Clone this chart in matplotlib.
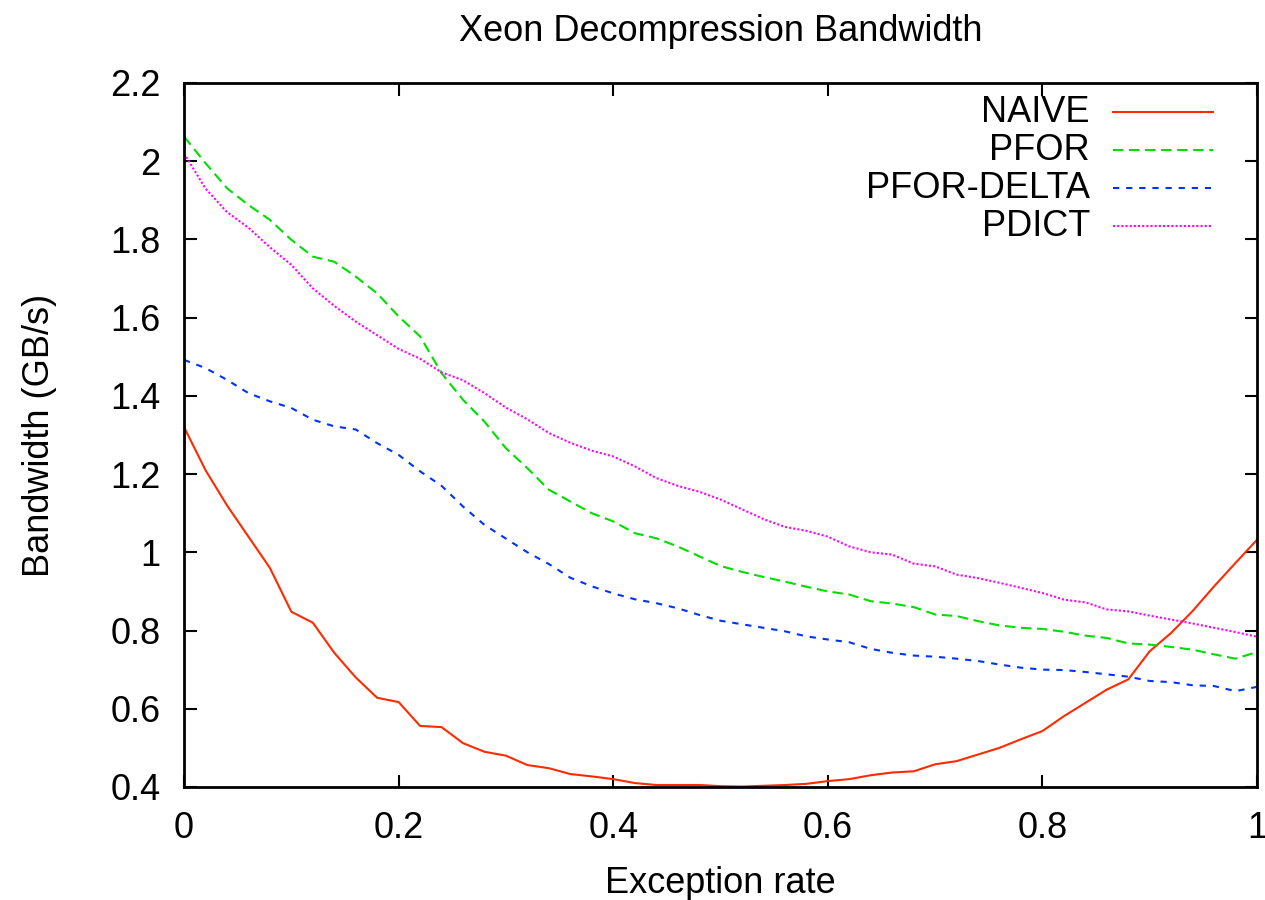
import matplotlib
matplotlib.use("Agg")
import matplotlib.pyplot as plt
import numpy as np

plt.rcParams['font.family'] = ['Liberation Sans', 'DejaVu Sans']

rate = np.round(np.arange(0, 1.0001, 0.02), 2)

naive = [1.32, 1.21, 1.12, 1.04, 0.96, 0.848, 0.82, 0.743, 0.68, 0.628,
         0.617, 0.556, 0.553, 0.512, 0.49, 0.48, 0.456, 0.448, 0.433, 0.427,
         0.42, 0.41, 0.405, 0.405, 0.405, 0.402, 0.401, 0.403, 0.405, 0.408,
         0.415, 0.42, 0.43, 0.437, 0.44, 0.458, 0.466, 0.483, 0.50, 0.522,
         0.543, 0.581, 0.615, 0.649, 0.675, 0.747, 0.794, 0.85, 0.913, 0.973,
         1.032]
pfor = [2.063, 1.995, 1.931, 1.888, 1.85, 1.799, 1.756, 1.743, 1.705, 1.662,
        1.603, 1.552, 1.458, 1.39, 1.334, 1.266, 1.215, 1.16, 1.13, 1.10,
        1.079, 1.049, 1.036, 1.015, 0.99, 0.965, 0.95, 0.937, 0.925, 0.912,
        0.90, 0.892, 0.875, 0.869, 0.86, 0.841, 0.837, 0.824, 0.813, 0.807,
        0.804, 0.797, 0.787, 0.781, 0.767, 0.764, 0.758, 0.751, 0.739, 0.728,
        0.745]
pfor_delta = [1.492, 1.471, 1.441, 1.407, 1.386, 1.369, 1.339, 1.322, 1.314, 1.279,
              1.249, 1.207, 1.17, 1.117, 1.07, 1.035, 1.0, 0.97, 0.935, 0.913,
              0.895, 0.88, 0.87, 0.857, 0.84, 0.825, 0.816, 0.807, 0.798, 0.785,
              0.777, 0.770, 0.753, 0.743, 0.736, 0.733, 0.728, 0.722, 0.713, 0.705,
              0.70, 0.699, 0.694, 0.688, 0.682, 0.671, 0.668, 0.66, 0.658, 0.645,
              0.656]
pdict = [2.02, 1.93, 1.87, 1.83, 1.78, 1.735, 1.675, 1.63, 1.59, 1.555,
         1.52, 1.495, 1.46, 1.44, 1.407, 1.37, 1.34, 1.305, 1.28, 1.26,
         1.245, 1.22, 1.19, 1.17, 1.155, 1.135, 1.11, 1.085, 1.065, 1.055,
         1.04, 1.015, 1.0, 0.994, 0.971, 0.964, 0.943, 0.934, 0.922, 0.909,
         0.896, 0.879, 0.872, 0.854, 0.849, 0.838, 0.828, 0.818, 0.807, 0.796,
         0.784]

series = [
    ("NAIVE", naive, '#ff2a00', '-'),
    ("PFOR", pfor, '#00dd00', (0, (5, 2.7))),
    ("PFOR-DELTA", pfor_delta, '#0033ff', (0, (3, 3.3))),
    ("PDICT", pdict, '#ff00ff', (0, (1, 1))),
]

fig = plt.figure(figsize=(12.65, 9), dpi=100)
ax = fig.add_axes([0.1455, 0.1256, 0.8482, 0.7822])

for i, (name, vals, color, ls) in enumerate(series):
    ax.plot(rate, vals, color=color, linestyle=ls, linewidth=1.5)
    # gnuplot style key: right-justified label, sample line on the right
    ky = 0.9585 - i * 0.054
    ax.text(0.8443, ky, name, transform=ax.transAxes, ha='right', va='center',
            fontsize=26)
    ax.plot([0.8658, 0.959], [ky, ky], transform=ax.transAxes, color=color,
            linestyle=ls, linewidth=1.5)

ax.set_xlim(0, 1)
ax.set_ylim(0.4, 2.2)
ax.set_xticks(np.arange(0, 1.01, 0.2))
ax.set_xticklabels(['0', '0.2', '0.4', '0.6', '0.8', '1'])
ax.set_yticks(np.arange(0.4, 2.21, 0.2))
ax.set_yticklabels(['0.4', '0.6', '0.8', '1', '1.2', '1.4', '1.6', '1.8', '2', '2.2'])
ax.tick_params(direction='in', length=9, width=1.5, top=True, right=True,
               labelsize=26)
ax.tick_params(axis='x', pad=17)
ax.tick_params(axis='y', pad=17)
for sp in ax.spines.values():
    sp.set_linewidth(2)

ax.set_title("Xeon Decompression Bandwidth", fontsize=26, pad=30)
ax.set_xlabel("Exception rate", fontsize=26, labelpad=15)
ax.set_ylabel("Bandwidth (GB/s)", fontsize=26, labelpad=38)

fig.savefig("out.png", dpi=100)
